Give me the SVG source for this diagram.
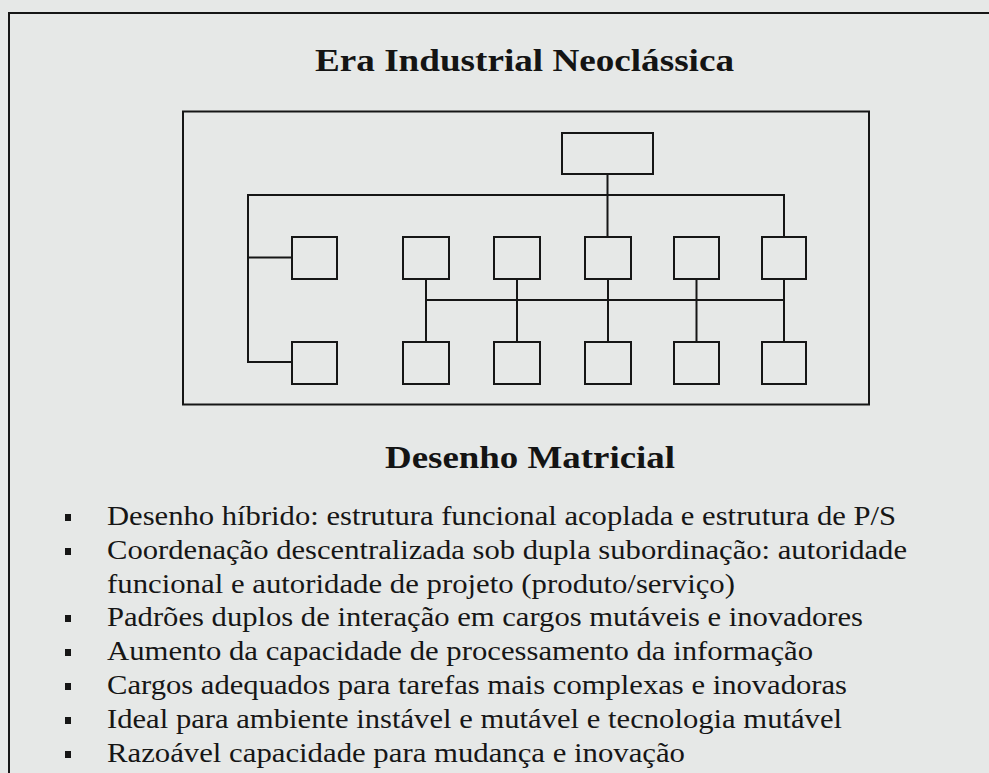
<svg xmlns="http://www.w3.org/2000/svg" width="989" height="773" viewBox="0 0 989 773">
<style>
.bg{fill:#e6e8e7}
.ln{fill:none;stroke:#161616;stroke-width:2;stroke-linejoin:miter}
.box{fill:none;stroke:#161616;stroke-width:2}
.ttl{font-family:"Liberation Serif","Times New Roman",serif;font-weight:bold;fill:#141414}
.item{font-family:"Liberation Serif","Times New Roman",serif;font-size:28px;fill:#161616}
.bul{fill:#161616}
</style>
<rect class="bg" x="0" y="0" width="989" height="773"/>
<path class="ln" d="M9,773 V13 H989"/>
<text class="ttl" x="315" y="71" font-size="32" textLength="419" lengthAdjust="spacingAndGlyphs">Era Industrial Neoclássica</text>
<rect id="frame" class="ln" x="183" y="111.5" width="686" height="293"/>
<g id="connectors" class="ln">
<path d="M607.5,174 V237"/>
<path d="M784,237 V195 H248 V362 H292"/>
<path d="M248,257.5 H292"/>
<path d="M426,300 H784"/>
<path d="M426,279 V342"/>
<path d="M517,279 V342"/>
<path d="M608,279 V342"/>
<path d="M696.5,279 V342"/>
<path d="M784,279 V342"/>
</g>
<g id="top"><rect class="box" x="562" y="133" width="91" height="41"/></g>
<g id="r1c1"><rect class="box" x="292" y="237" width="45" height="42"/></g>
<g id="r1c2"><rect class="box" x="403" y="237" width="46" height="42"/></g>
<g id="r1c3"><rect class="box" x="494" y="237" width="46" height="42"/></g>
<g id="r1c4"><rect class="box" x="585" y="237" width="46" height="42"/></g>
<g id="r1c5"><rect class="box" x="674" y="237" width="45" height="42"/></g>
<g id="r1c6"><rect class="box" x="762" y="237" width="44" height="42"/></g>
<g id="r2c1"><rect class="box" x="292" y="342" width="45" height="42"/></g>
<g id="r2c2"><rect class="box" x="403" y="342" width="46" height="42"/></g>
<g id="r2c3"><rect class="box" x="494" y="342" width="46" height="42"/></g>
<g id="r2c4"><rect class="box" x="585" y="342" width="46" height="42"/></g>
<g id="r2c5"><rect class="box" x="674" y="342" width="45" height="42"/></g>
<g id="r2c6"><rect class="box" x="762" y="342" width="44" height="42"/></g>
<text class="ttl" x="385" y="468" font-size="31" textLength="290" lengthAdjust="spacingAndGlyphs">Desenho Matricial</text>
<g id="list">
<rect class="bul" x="65" y="514" width="6" height="7"/>
<rect class="bul" x="65" y="548" width="6" height="7"/>
<rect class="bul" x="65" y="615" width="6" height="7"/>
<rect class="bul" x="65" y="649" width="6" height="7"/>
<rect class="bul" x="65" y="683" width="6" height="7"/>
<rect class="bul" x="65" y="717" width="6" height="7"/>
<rect class="bul" x="65" y="751" width="6" height="7"/>
<text class="item" x="107" y="525" textLength="789" lengthAdjust="spacingAndGlyphs">Desenho híbrido: estrutura funcional acoplada e estrutura de P/S</text>
<text class="item" x="107" y="559" textLength="800" lengthAdjust="spacingAndGlyphs">Coordenação descentralizada sob dupla subordinação: autoridade</text>
<text class="item" x="107" y="593" textLength="628" lengthAdjust="spacingAndGlyphs">funcional e autoridade de projeto (produto/serviço)</text>
<text class="item" x="107" y="626" textLength="756" lengthAdjust="spacingAndGlyphs">Padrões duplos de interação em cargos mutáveis e inovadores</text>
<text class="item" x="107" y="660" textLength="706" lengthAdjust="spacingAndGlyphs">Aumento da capacidade de processamento da informação</text>
<text class="item" x="107" y="694" textLength="740" lengthAdjust="spacingAndGlyphs">Cargos adequados para tarefas mais complexas e inovadoras</text>
<text class="item" x="107" y="728" textLength="735" lengthAdjust="spacingAndGlyphs">Ideal para ambiente instável e mutável e tecnologia mutável</text>
<text class="item" x="107" y="762" textLength="578" lengthAdjust="spacingAndGlyphs">Razoável capacidade para mudança e inovação</text>
</g>
</svg>
